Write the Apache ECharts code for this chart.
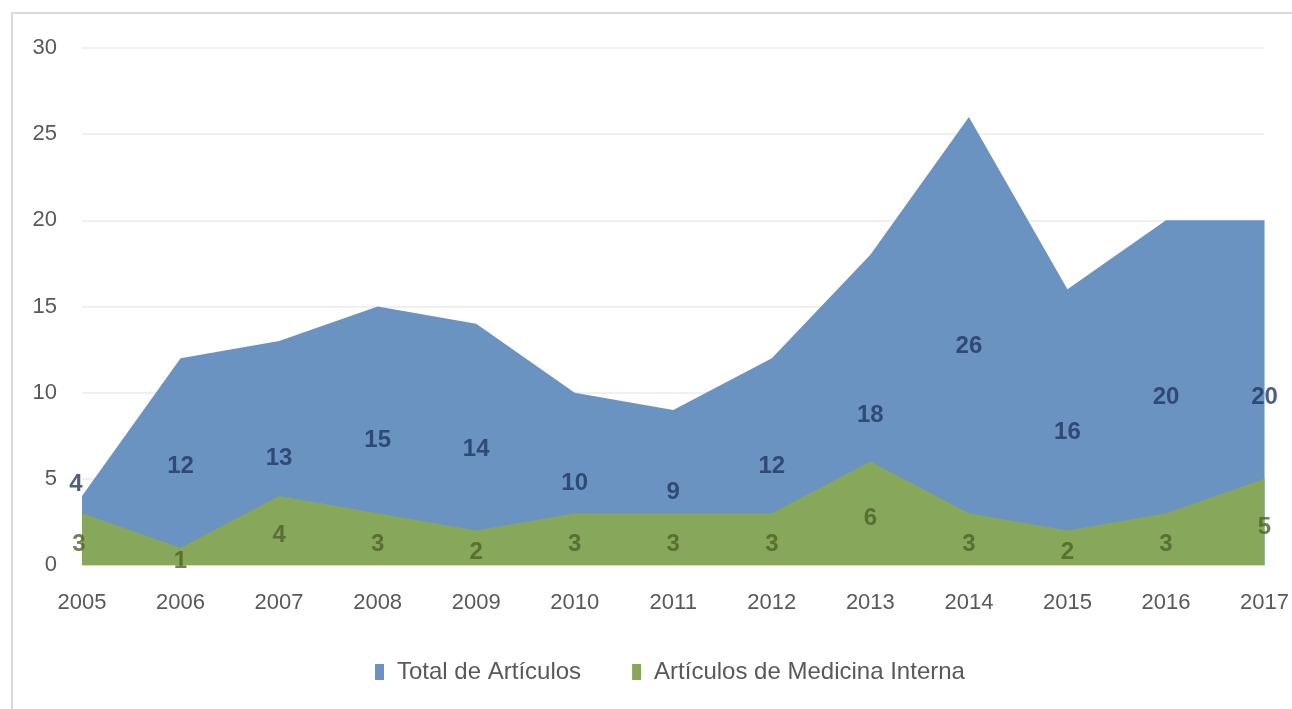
<!DOCTYPE html>
<html>
<head>
<meta charset="utf-8">
<script src="https://cdn.jsdelivr.net/npm/echarts@6/dist/echarts.min.js"></script>
<style>
html, body { margin: 0; padding: 0; background: #fff; }
#frame {
  position: absolute; left: 11px; top: 12px; width: 1300px; height: 720px;
  border-left: 2px solid #d9d9d9; border-top: 2px solid #d9d9d9;
}
#chart { position: absolute; left: 0; top: 0; width: 1292px; height: 709px; }
</style>
</head>
<body>
<div id="frame"></div>
<div id="chart"></div>
<script>
const years = ['2005', '2006', '2007', '2008', '2009', '2010', '2011', '2012', '2013', '2014', '2015', '2016', '2017']
const totalArticulos = [4, 12, 13, 15, 14, 10, 9, 12, 18, 26, 16, 20, 20]
const medicinaInterna = [3, 1, 4, 3, 2, 3, 3, 3, 6, 3, 2, 3, 5]
const yTicks = [0, 5, 10, 15, 20, 25, 30]

const FONT = "'Liberation Sans', 'DejaVu Sans', sans-serif"
const BLUE = '#6b93c2'
const GREEN = '#87a85b'

// labels sit in the middle of each area, like Excel's centred data labels
function midLabels(values, firstOffset) {
  return values.map((v, i) => {
    const item = { value: [i, v / 2], raw: v }
    if (i === 0 && firstOffset) item.label = { offset: firstOffset }
    return item
  })
}

function labelStyle(color) {
  return {
    show: true,
    position: 'inside',
    offset: [0, 5],
    formatter: p => p.data.raw,
    fontFamily: FONT,
    fontSize: 24,
    fontWeight: 'bold',
    color: color
  }
}

const chart = echarts.init(document.getElementById('chart'))
chart.setOption({
  animation: false,
  grid: { left: 82, right: 27, top: 48, bottom: 144 },
  legend: {
    left: 370,
    top: 655,
    itemWidth: 9,
    itemHeight: 16,
    itemGap: 51,
    icon: 'rect',
    textStyle: { fontFamily: FONT, fontSize: 24, color: '#595959', padding: [0, 0, 0, 8] },
    data: ['Total de Artículos', 'Artículos de Medicina Interna']
  },
  xAxis: {
    type: 'category',
    boundaryGap: false,
    data: years,
    axisLine: { show: true, lineStyle: { color: '#d9d9d9' } },
    axisTick: { show: false },
    axisLabel: { margin: 27, fontFamily: FONT, fontSize: 22, color: '#595959' }
  },
  yAxis: {
    type: 'value',
    min: yTicks[0],
    max: yTicks[yTicks.length - 1],
    interval: 5,
    axisLine: { show: false },
    axisTick: { show: false },
    axisLabel: { margin: 25, fontFamily: FONT, fontSize: 22, color: '#595959' },
    splitLine: { lineStyle: { color: '#ebebeb', width: 1.5 } }
  },
  series: [{
    name: 'Total de Artículos',
    type: 'line',
    data: totalArticulos,
    showSymbol: false,
    itemStyle: { color: BLUE },
    lineStyle: { width: 0 },
    areaStyle: { color: BLUE, opacity: 1 },
    z: 2
  }, {
    name: 'Artículos de Medicina Interna',
    type: 'line',
    data: medicinaInterna,
    showSymbol: false,
    itemStyle: { color: GREEN },
    lineStyle: { width: 0 },
    areaStyle: { color: GREEN, opacity: 1 },
    z: 3
  }, {
    type: 'scatter',
    silent: true,
    symbolSize: 0,
    z: 5,
    data: midLabels(totalArticulos, [-6, -46]),
    label: labelStyle('#203864')
  }, {
    type: 'scatter',
    silent: true,
    symbolSize: 0,
    z: 5,
    data: midLabels(medicinaInterna, [-3, 5]),
    label: labelStyle('#4f6228')
  }]
})
</script>
</body>
</html>
